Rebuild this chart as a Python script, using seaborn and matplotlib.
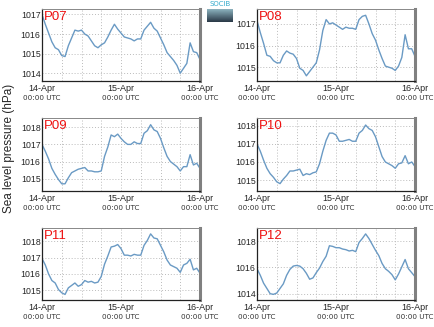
import numpy as np
import pandas as pd
import matplotlib
matplotlib.use("Agg")
import matplotlib.pyplot as plt
import matplotlib.dates as mdates
from matplotlib.ticker import MultipleLocator
import seaborn as sns

# ---------------- data ----------------
times = pd.date_range("2024-04-14 00:00", periods=49, freq="h")
stations = ["P07", "P08", "P09", "P10", "P11", "P12"]

p07 = [1017.0, 1016.5, 1016.05, 1015.6, 1015.3, 1015.2, 1014.9, 1014.85, 1015.4, 1015.8,
       1016.2, 1016.15, 1016.2, 1016.0, 1015.9, 1015.65, 1015.4, 1015.3, 1015.45, 1015.55,
       1015.85, 1016.2, 1016.5, 1016.25, 1016.05, 1015.85, 1015.8, 1015.75, 1015.65, 1015.75,
       1015.75, 1016.2, 1016.4, 1016.6, 1016.3, 1016.15, 1015.8, 1015.45, 1015.05, 1014.85,
       1014.65, 1014.4, 1014.0, 1014.25, 1014.5, 1015.55, 1015.1, 1015.05, 1014.7]
p08 = [1017.15, 1016.6, 1016.1, 1015.55, 1015.5, 1015.3, 1015.2, 1015.2, 1015.55, 1015.75,
       1015.65, 1015.6, 1015.4, 1014.95, 1014.85, 1014.6, 1014.8, 1015.0, 1015.2, 1015.8,
       1016.7, 1017.2, 1017.0, 1017.05, 1016.95, 1016.85, 1016.75, 1016.85, 1016.8, 1016.8,
       1016.75, 1017.2, 1017.35, 1017.4, 1017.0, 1016.55, 1016.25, 1015.8, 1015.4, 1015.05,
       1015.0, 1014.95, 1014.85, 1015.05, 1015.45, 1016.5, 1015.85, 1015.85, 1015.5]
p09 = [1017.0, 1016.6, 1016.15, 1015.6, 1015.25, 1014.95, 1014.7, 1014.7, 1015.05, 1015.35,
       1015.45, 1015.55, 1015.6, 1015.65, 1015.45, 1015.45, 1015.4, 1015.4, 1015.45, 1016.3,
       1016.85, 1017.55, 1017.45, 1017.6, 1017.35, 1017.15, 1017.0, 1017.0, 1017.15, 1017.05,
       1017.05, 1017.65, 1017.8, 1018.15, 1017.85, 1017.75, 1017.35, 1016.8, 1016.3, 1016.0,
       1015.85, 1015.7, 1015.45, 1015.7, 1015.7, 1016.4, 1015.8, 1015.9, 1015.6]
p10 = [1017.0, 1016.6, 1016.1, 1015.65, 1015.35, 1015.15, 1014.9, 1014.8, 1015.05, 1015.25,
       1015.5, 1015.5, 1015.55, 1015.6, 1015.25, 1015.35, 1015.3, 1015.4, 1015.45, 1015.9,
       1016.6, 1017.2, 1017.6, 1017.6, 1017.5, 1017.15, 1017.15, 1017.2, 1017.25, 1017.15,
       1017.15, 1017.6, 1017.75, 1018.05, 1017.85, 1017.75, 1017.4, 1016.85, 1016.3, 1016.0,
       1015.9, 1015.8, 1015.65, 1015.9, 1015.95, 1016.35, 1015.9, 1016.0, 1015.75]
p11 = [1016.95, 1016.55, 1016.0, 1015.6, 1015.45, 1015.05, 1014.85, 1014.75, 1015.15, 1015.3,
       1015.45, 1015.25, 1015.35, 1015.6, 1015.5, 1015.55, 1015.45, 1015.5, 1015.85, 1016.6,
       1017.1, 1017.65, 1017.7, 1017.8, 1017.55, 1017.15, 1017.15, 1017.1, 1017.2, 1017.15,
       1017.15, 1017.75, 1018.05, 1018.45, 1018.2, 1018.15, 1017.75, 1017.35, 1016.85, 1016.55,
       1016.45, 1016.35, 1016.1, 1016.55, 1016.65, 1016.9, 1016.25, 1016.35, 1016.05]
p12 = [1015.9, 1015.4, 1014.8, 1014.4, 1014.0, 1013.95, 1014.05, 1014.4, 1014.75, 1015.4,
       1015.85, 1016.1, 1016.15, 1016.1, 1015.9, 1015.55, 1015.1, 1015.2, 1015.6, 1015.95,
       1016.45, 1016.85, 1017.65, 1017.6, 1017.5, 1017.5, 1017.4, 1017.35, 1017.25, 1017.3,
       1017.2, 1017.9, 1018.2, 1018.55, 1018.2, 1017.75, 1017.3, 1016.9, 1016.3, 1015.9,
       1015.7, 1015.45, 1015.05, 1015.5, 1016.05, 1016.6, 1015.9, 1015.6, 1015.3]
series = [p07, p08, p09, p10, p11, p12]

ylims = [(1013.6, 1017.28), (1014.36, 1017.69), (1014.28, 1018.54),
         (1014.39, 1018.44), (1014.41, 1018.81), (1013.52, 1019.0)]
ysteps = [1, 1, 1, 1, 1, 2]
time_label = "00:00 UTC"
ylabel = "Sea level pressure (hPa)"

# ---------------- style ----------------
sns.set_style("white")
plt.rcParams["font.family"] = ["Liberation Sans", "DejaVu Sans"]

W, H = 435, 327
fig = plt.figure(figsize=(W / 100, H / 100), dpi=100)

lefts = [42, 257]
tops = [9, 118, 228]
bottoms = [81, 191, 300]
aw = 158

line_color = "#6a9ac4"
for i, (name, vals) in enumerate(zip(stations, series)):
    r, c = divmod(i, 2)
    ah = bottoms[r] - tops[r]
    ax = fig.add_axes([lefts[c] / W, 1 - bottoms[r] / H, aw / W, ah / H])
    df = pd.DataFrame({"time": times, "slp": vals})
    sns.lineplot(data=df, x="time", y="slp", ax=ax, color=line_color, linewidth=1.0)
    ax.set_xlim(times[0], times[-1])
    ax.set_ylim(*ylims[i])
    ax.yaxis.set_major_locator(MultipleLocator(ysteps[i]))
    ax.yaxis.set_major_formatter(matplotlib.ticker.FormatStrFormatter("%d"))
    ax.xaxis.set_major_locator(mdates.DayLocator())
    ax.xaxis.set_minor_locator(mdates.HourLocator(byhour=[6, 12, 18]))
    ax.xaxis.set_major_formatter(mdates.DateFormatter("%d-%b"))
    ax.set_xlabel("")
    ax.set_ylabel("")
    ax.grid(True, which="both", axis="x", color="#bbbbbb", linestyle=(0, (1, 2)), linewidth=0.7)
    ax.grid(True, which="major", axis="y", color="#bbbbbb", linestyle=(0, (1, 2)), linewidth=0.7)
    ax.tick_params(axis="y", labelsize=6.3, pad=1, length=2, direction="in", width=0.6)
    ax.tick_params(axis="x", which="major", labelsize=6.5, pad=2.2, length=2, direction="in", width=0.6)
    ax.tick_params(axis="x", which="minor", length=0)
    for spn in ["left", "bottom"]:
        ax.spines[spn].set_color("#222222")
        ax.spines[spn].set_linewidth(0.9)
    ax.spines["top"].set_color("#888888")
    ax.spines["top"].set_linewidth(0.7)
    ax.spines["right"].set_color("#808080")
    ax.spines["right"].set_linewidth(2.2)
    day_ticks = pd.date_range(times[0], times[-1], freq="D")
    for d in day_ticks:
        ax.text(mdates.date2num(d), -13.8 / ah, time_label, transform=ax.get_xaxis_transform(),
                ha="center", va="top", fontsize=5.2, color="#333333", family="DejaVu Sans")
    ax.text(0.012, 0.97, name, transform=ax.transAxes, ha="left", va="top",
            fontsize=9.5, color="#ee1111")

fig.text(9 / W, 1 - 148 / H, ylabel, rotation=90, ha="center", va="center", fontsize=8.5)

# small logo (top centre)
lax = fig.add_axes([207 / W, 1 - 22 / H, 26 / W, 13 / H])
grad = np.linspace(0, 1, 20).reshape(-1, 1)
lax.imshow(grad, aspect="auto", cmap=sns.blend_palette(["#8ab0bc", "#2b3a48"], as_cmap=True))
lax.axis("off")
fig.text(220 / W, 1 - 4.5 / H, "SOCIB", ha="center", va="center", fontsize=5,
         color="#33aacc", family="DejaVu Sans")

fig.savefig("out.png", dpi=100)
